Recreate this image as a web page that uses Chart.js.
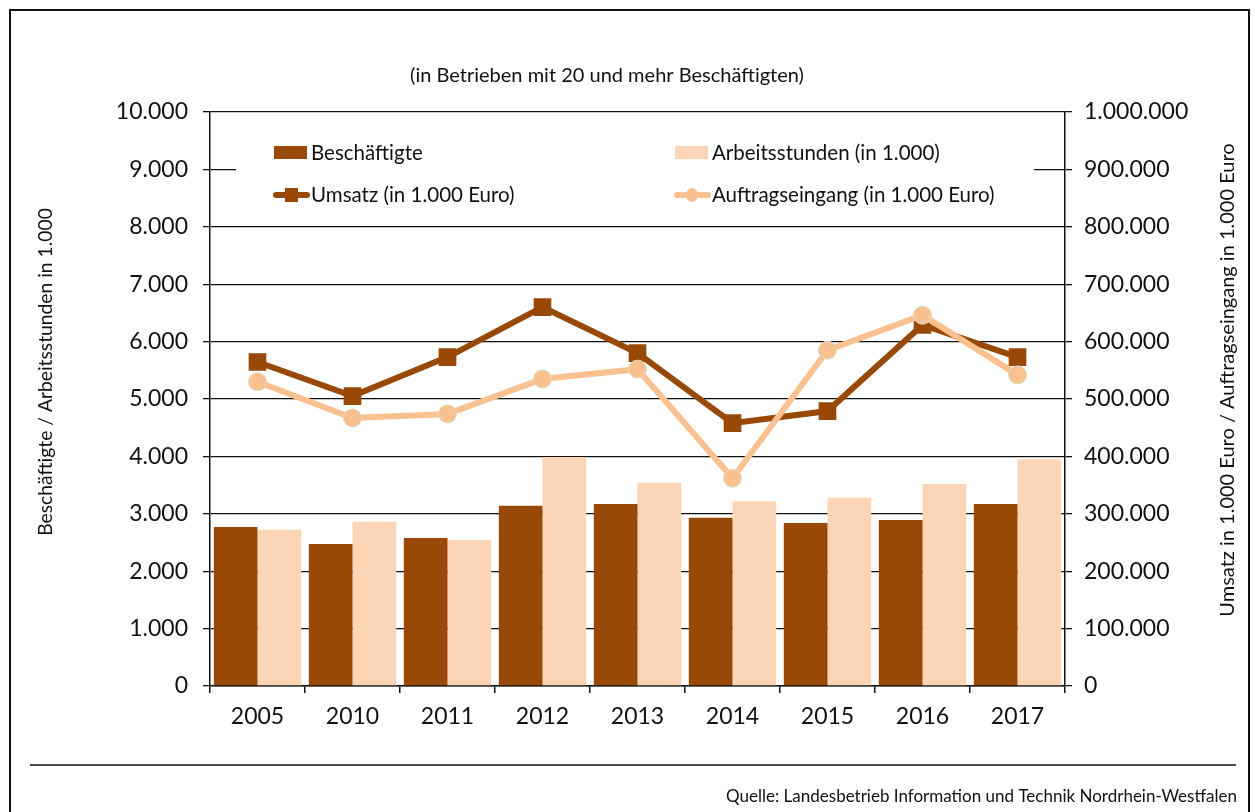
<!DOCTYPE html>
<html>
<head>
<meta charset="utf-8">
<script src="https://cdn.jsdelivr.net/npm/chart.js@4"></script>
<style>
  html, body { margin: 0; padding: 0; background: #fff; }
  #wrap { width: 1255px; height: 812px; position: relative; }
</style>
</head>
<body>
<div id="wrap"><canvas id="chart" width="1255" height="812"></canvas></div>
<script>
// Daten
const years = ["2005", "2010", "2011", "2012", "2013", "2014", "2015", "2016", "2017"];
const beschaeftigte = [2770, 2475, 2580, 3140, 3170, 2930, 2840, 2890, 3170];
const arbeitsstunden = [2720, 2860, 2545, 3990, 3540, 3220, 3280, 3520, 3950];
const umsatz = [564500, 505000, 573000, 660000, 580000, 458000, 479000, 629000, 573000];
const auftragseingang = [530000, 467000, 474000, 535000, 552000, 362000, 585000, 646000, 542000];
const leftTicks = [0, 1000, 2000, 3000, 4000, 5000, 6000, 7000, 8000, 9000, 10000];
const rightTicks = [0, 100000, 200000, 300000, 400000, 500000, 600000, 700000, 800000, 900000, 1000000];

const FONT = "Lato";
const DARK = "#984807";
const LIGHT = "#fbd5b5";
const LINE_LIGHT = "#f9c090";

const fmt = v => v.toLocaleString("de-DE");

// Rahmen, Titel, Achsentitel, Legende, Quelle
const decor = {
  id: "decor",
  beforeDraw(chart) {
    const c = chart.ctx;
    c.save();
    c.fillStyle = "#fff";
    c.fillRect(0, 0, chart.width, chart.height);
    c.restore();
  },
  afterDraw(chart) {
    const c = chart.ctx;
    c.save();
    // Rahmen
    c.strokeStyle = "#111";
    c.lineWidth = 2;
    c.beginPath();
    c.moveTo(10, 812); c.lineTo(10, 10); c.lineTo(1249, 10); c.lineTo(1249, 812);
    c.stroke();
    c.lineWidth = 1.5;
    c.beginPath();
    c.moveTo(30, 765); c.lineTo(1236, 765);
    c.stroke();

    c.fillStyle = "#111";
    c.textBaseline = "middle";
    c.font = `20px ${FONT}`;
    c.textAlign = "center";
    c.fillText("(in Betrieben mit 20 und mehr Beschäftigten)", 607, 76);

    c.font = `17px ${FONT}`;
    c.textAlign = "right";
    c.fillText("Quelle: Landesbetrieb Information und Technik Nordrhein-Westfalen", 1237, 797);

    // Achsentitel
    c.textAlign = "center";
    c.font = `19.3px ${FONT}`;
    c.save();
    c.translate(46, 372);
    c.rotate(-Math.PI / 2);
    c.fillText("Beschäftigte / Arbeitsstunden in 1.000", 0, 0);
    c.restore();
    c.font = `20px ${FONT}`;
    c.save();
    c.translate(1228, 380);
    c.rotate(-Math.PI / 2);
    c.fillText("Umsatz in 1.000 Euro / Auftragseingang in 1.000 Euro", 0, 0);
    c.restore();

    // Legende
    c.fillStyle = "#fff";
    c.fillRect(236, 133, 798, 80);
    c.font = `20.5px ${FONT}`;
    c.textAlign = "left";
    const ds = chart.data.datasets;
    const items = [
      { d: ds[0], x: 274, y: 153 },
      { d: ds[1], x: 675, y: 153 },
      { d: ds[2], x: 274, y: 195 },
      { d: ds[3], x: 675, y: 195 }
    ];
    items.forEach(it => {
      const d = it.d;
      if (d.type === "line") {
        c.strokeStyle = d.borderColor;
        c.lineWidth = 6;
        c.lineCap = "round";
        c.beginPath();
        c.moveTo(it.x + 2, it.y); c.lineTo(it.x + 33, it.y);
        c.stroke();
        c.fillStyle = d.pointBackgroundColor;
        if (d.pointStyle === "rect") {
          c.fillRect(it.x + 11, it.y - 7, 13, 14);
        } else {
          c.beginPath();
          c.ellipse(it.x + 17, it.y, 6, 7, 0, 0, Math.PI * 2);
          c.fill();
        }
      } else {
        c.fillStyle = d.backgroundColor;
        c.fillRect(it.x, it.y - 7, 33, 13);
      }
      c.fillStyle = "#111";
      c.fillText(d.label, it.x + 37, it.y);
    });
    c.restore();
  }
};

new Chart(document.getElementById("chart"), {
  data: {
    labels: years,
    datasets: [
      {
        type: "bar",
        label: "Beschäftigte",
        data: beschaeftigte,
        backgroundColor: DARK,
        yAxisID: "y",
        order: 3,
        categoryPercentage: 0.92,
        barPercentage: 1.0
      },
      {
        type: "bar",
        label: "Arbeitsstunden (in 1.000)",
        data: arbeitsstunden,
        backgroundColor: LIGHT,
        yAxisID: "y",
        order: 3,
        categoryPercentage: 0.92,
        barPercentage: 1.0
      },
      {
        type: "line",
        label: "Umsatz (in 1.000 Euro)",
        data: umsatz,
        borderColor: DARK,
        borderWidth: 6,
        pointStyle: "rect",
        pointRadius: 12.5,
        pointBackgroundColor: DARK,
        pointBorderColor: DARK,
        pointBorderWidth: 0,
        yAxisID: "y1",
        order: 2,
        tension: 0
      },
      {
        type: "line",
        label: "Auftragseingang (in 1.000 Euro)",
        data: auftragseingang,
        borderColor: LINE_LIGHT,
        borderWidth: 6,
        pointStyle: "circle",
        pointRadius: 9,
        pointBackgroundColor: LINE_LIGHT,
        pointBorderColor: "#dcdcc4",
        pointBorderWidth: 1,
        yAxisID: "y1",
        order: 1,
        tension: 0
      }
    ]
  },
  options: {
    responsive: false,
    animation: false,
    layout: { padding: { left: 0, right: 0, top: 112, bottom: 0 } },
    plugins: {
      legend: { display: false },
      tooltip: { enabled: false }
    },
    scales: {
      x: {
        offset: true,
        grid: {
          offset: true,
          drawOnChartArea: false,
          color: "#111",
          lineWidth: 1.5,
          tickLength: 7
        },
        border: { color: "#111", width: 1.5 },
        ticks: { color: "#111", font: { family: FONT, size: 23 }, padding: 10 },
        afterFit: s => { s.height = 126; }
      },
      y: {
        position: "left",
        min: 0,
        max: 10000,
        afterBuildTicks: s => { s.ticks = leftTicks.map(v => ({ value: v })); },
        grid: { color: "#111", lineWidth: 1.3, tickLength: 7 },
        border: { color: "#111", width: 1.5 },
        ticks: {
          color: "#111",
          font: { family: FONT, size: 23 },
          padding: 15,
          callback: v => fmt(v)
        },
        afterFit: s => { s.width = 210; }
      },
      y1: {
        position: "right",
        min: 0,
        max: 1000000,
        afterBuildTicks: s => { s.ticks = rightTicks.map(v => ({ value: v })); },
        grid: { drawOnChartArea: false, color: "#111", lineWidth: 1.3, tickLength: 7 },
        border: { color: "#111", width: 1.5 },
        ticks: {
          color: "#111",
          font: { family: FONT, size: 23 },
          padding: 12,
          callback: v => fmt(v)
        },
        afterFit: s => { s.width = 190; }
      }
    }
  },
  plugins: [decor]
});
</script>
</body>
</html>
